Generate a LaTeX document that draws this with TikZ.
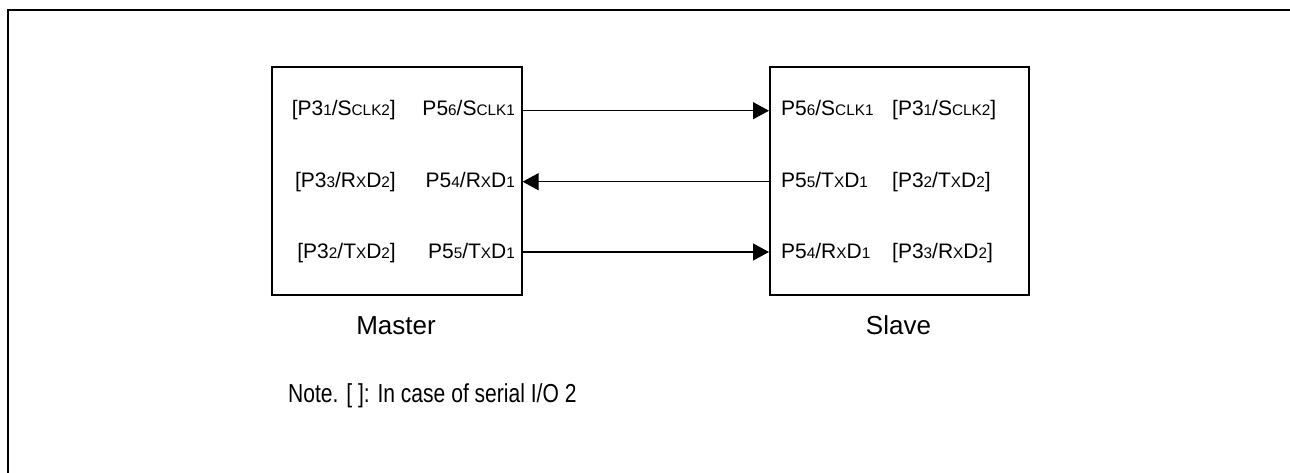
\documentclass[tikz,border=0pt]{standalone}
\usepackage{fontspec}
\setmainfont{Liberation Sans}
\usetikzlibrary{arrows.meta}
\newcommand{\sm}[1]{{\fontsize{15.3}{16}\selectfont #1}}
\begin{document}
\begin{tikzpicture}[x=1pt,y=-1pt,
  lbl/.style={inner sep=0pt,font=\fontsize{21}{24}\selectfont},
  captext/.style={inner sep=0pt,font=\fontsize{26}{30}\selectfont},
  box/.style={draw,line width=1.6pt,inner sep=0pt,anchor=north west,minimum height=228pt},
  conn/.style={line width=1.2pt,-{Triangle[length=16pt,width=17pt]}},
  frame/.style={line width=2.2pt}]
\useasboundingbox (0,0) rectangle (1290,473);
\draw[frame] (8.3,473) -- (8.3,10) -- (1290,10);
% boxes
\node[box,minimum width=250pt] (master) at (271,66) {};
\node[box,minimum width=259pt] (slave) at (769,66) {};
% master labels
\node[lbl,anchor=base east] (mr1) at (515,116) {P5\sm{6}/S\sm{CLK1}};
\node[lbl,anchor=base east] (mr2) at (515,187.5) {P5\sm{4}/R\sm{X}D\sm{1}};
\node[lbl,anchor=base east] (mr3) at (515,258) {P5\sm{5}/T\sm{X}D\sm{1}};
\node[lbl,anchor=base east] (ml1) at (396,116) {[P3\sm{1}/S\sm{CLK2}]};
\node[lbl,anchor=base east] (ml2) at (396,187.5) {[P3\sm{3}/R\sm{X}D\sm{2}]};
\node[lbl,anchor=base east] (ml3) at (396,258) {[P3\sm{2}/T\sm{X}D\sm{2}]};
% slave labels
\node[lbl,anchor=base west] (sl1) at (781,116) {P5\sm{6}/S\sm{CLK1}};
\node[lbl,anchor=base west] (sl2) at (781,187.5) {P5\sm{5}/T\sm{X}D\sm{1}};
\node[lbl,anchor=base west] (sl3) at (781,258) {P5\sm{4}/R\sm{X}D\sm{1}};
\node[lbl,anchor=base west] (sr1) at (892,116) {[P3\sm{1}/S\sm{CLK2}]};
\node[lbl,anchor=base west] (sr2) at (892,187.5) {[P3\sm{2}/T\sm{X}D\sm{2}]};
\node[lbl,anchor=base west] (sr3) at (892,258) {[P3\sm{3}/R\sm{X}D\sm{2}]};
% captions
\node[captext,anchor=base] (mcap) at (396,334) {Master};
\node[captext,anchor=base] (scap) at (898.5,334) {Slave};
\node[captext,anchor=base west] (note) at (288,402) {\scalebox{0.81}[1]{Note. [ ]: In case of serial I/O 2}};
% connectors
\draw[conn] (master.east |- 0,110.7) -- (slave.west |- 0,110.7);
\draw[conn] (slave.west |- 0,181.7) -- (master.east |- 0,181.7);
\draw[conn] (master.east |- 0,252) -- (slave.west |- 0,252);
\end{tikzpicture}
\end{document}
